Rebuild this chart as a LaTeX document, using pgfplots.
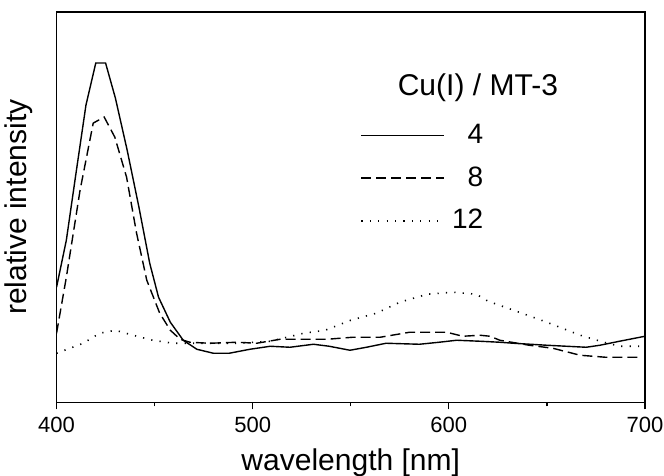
\documentclass[border=0pt]{standalone}
\usepackage{fontspec}
\setmainfont{Liberation Sans}
\usepackage{pgfplots}
\pgfplotsset{compat=1.18}

% 1 px of the reference = 0.5 pt; y values are px above the axis bottom
\pgfplotstableread{
wl    y
400   115
405   162
410   230
415   297
420   339
425   339
430   304
436   252
442   195
447.5 139
452   105
458   80
464.6 62
471.5 53
480   49
488   49
498.6 53
509   56
519   55
531   58
539   56
549.6 52
558   55
568   59
585   58
595   60
604   62
616   61
626   60
633   59
650   57
670   55
677   57
687   61
700   66
}\cufour

\pgfplotstableread{
wl    y
400   69
405   125
412   212
418.7 279
424.3 285
429.7 265
435.7 225
440.8 169
446   122
452.6 89
458   72
463   63
468   60
478   59
492   60
502   59
514   63
526   63
538   63
551   65
565   65
580   70
599   70
607   66
616   67
621   66
626   62
641   57
653   54
667   47
680   45
697   45
}\cueight

\pgfplotstableread{
wl    y
400   49
413.6 59
422   69
430   72
439   67
449   62
459.5 59
474   59
492   59
509   61
526   69
537   72
550   82
563   89
575   100
589   108
602   110
614   108
620   101
633   92
650   80
667   67
679   60
687   56
697   56
}\cutwelve

\begin{document}
\begin{tikzpicture}
\useasboundingbox (-28.25pt,-36.5pt) rectangle (303.5pt,201pt);
\begin{axis}[
    at={(0,0)}, anchor=south west,
    scale only axis,
    width=294pt, height=195pt,
    xmin=400, xmax=700,
    ymin=0, ymax=390,
    xtick={400,500,600,700},
    minor xtick={450,550,650},
    ytick=\empty,
    xtick pos=lower,
    tick align=outside,
    major tick length=3.5pt,
    minor tick length=2pt,
    every tick/.style={line width=0.6pt, black},
    axis line style={line width=0.75pt},
    /pgf/number format/assume math mode=true,
    xticklabel style={font=\fontsize{11}{13}\selectfont, yshift=-0.5pt},
    xlabel={wavelength [nm]},
    ylabel={relative intensity},
    xlabel style={font=\fontsize{15}{18}\selectfont,
        at={(axis description cs:0.5,-0.154)}, anchor=center},
    ylabel style={font=\fontsize{15}{18}\selectfont,
        at={(axis description cs:-0.04,0.5)}, anchor=south, inner sep=0pt},
    legend style={at={(rel axis cs:0.516,0.574)}, anchor=west,
        draw=none, fill=none, inner sep=0pt, row sep=6pt,
        font=\fontsize{14}{16}\selectfont},
    legend cell align=right,
    legend image code/.code={\draw[#1] (0pt,0pt) -- (41.5pt,0pt);},
]
\addplot[black, line width=0.7pt] table[x=wl, y=y] {\cufour};
\addplot[black, line width=0.7pt, dash pattern=on 5pt off 2.5pt] table[x=wl, y=y] {\cueight};
\addplot[black, line width=0.8pt, dash pattern=on 0.6pt off 3.6pt] table[x=wl, y=y] {\cutwelve};
\legend{\makebox[17pt][r]{4}, \makebox[17pt][r]{8}, \makebox[17pt][r]{12}}
\node[font=\fontsize{15}{18}\selectfont] at (rel axis cs:0.716,0.805) {Cu(I) / MT-3};
\end{axis}
\end{tikzpicture}
\end{document}
